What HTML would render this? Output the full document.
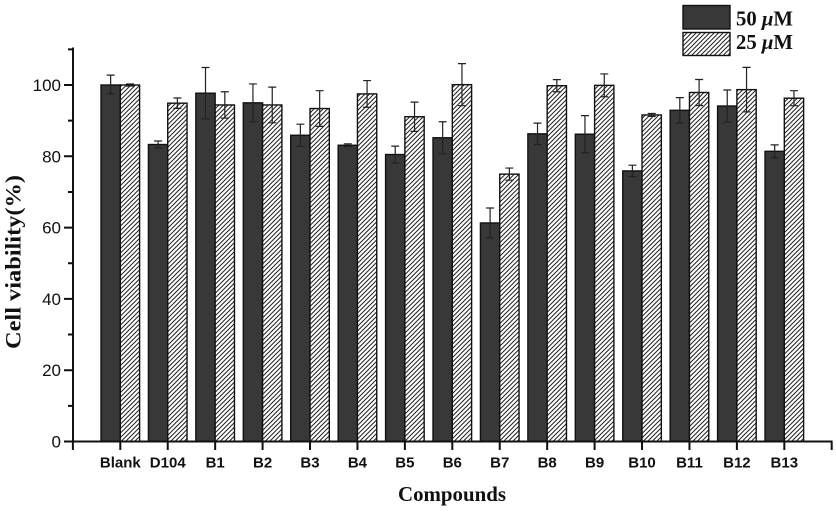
<!DOCTYPE html>
<html>
<head>
<meta charset="utf-8">
<style>
  html,body{margin:0;padding:0;background:#fff;}
  svg{display:block;}
  .tk{font-family:"Liberation Sans",Arial,sans-serif;font-size:17px;fill:#111;}
  .xl{font-family:"Liberation Sans",Arial,sans-serif;font-size:15px;font-weight:bold;fill:#111;}
  .ttl{font-family:"Liberation Serif","Times New Roman",serif;font-weight:bold;fill:#111;}
  .d{fill:#383838;stroke:#111;stroke-width:1.4;}
  .h{fill:url(#hatch);stroke:#111;stroke-width:1.4;}
  .e{stroke:#222;stroke-width:1.2;fill:none;}
</style>
</head>
<body>
<svg width="836" height="512" viewBox="0 0 836 512" xmlns="http://www.w3.org/2000/svg">
  <defs>
    <pattern id="hatch" patternUnits="userSpaceOnUse" width="4.5" height="4.5">
      <rect width="4.5" height="4.5" fill="#fff"/>
      <path d="M-1,5.5 L5.5,-1 M-1,1 L1,-1 M3.5,5.5 L5.5,3.5" stroke="#222" stroke-width="1"/>
    </pattern>
  </defs>

  <!-- Bars -->
  <g>
    <!-- 0 Blank c=120.3 -->
    <rect class="d" x="101" y="85.0" width="19.3" height="356.5"/>
    <rect class="h" x="120.3" y="85.0" width="19.3" height="356.5"/>
    <!-- 1 D104 c=167.73 -->
    <rect class="d" x="148.43" y="144.53" width="19.3" height="296.97"/>
    <rect class="h" x="167.73" y="103.17" width="19.3" height="338.33"/>
    <!-- 2 B1 c=215.16 -->
    <rect class="d" x="195.86" y="93.20" width="19.3" height="348.3"/>
    <rect class="h" x="215.16" y="104.96" width="19.3" height="336.54"/>
    <!-- 3 B2 c=262.59 -->
    <rect class="d" x="243.29" y="102.83" width="19.3" height="338.67"/>
    <rect class="h" x="262.59" y="104.96" width="19.3" height="336.54"/>
    <!-- 4 B3 c=310.02 -->
    <rect class="d" x="290.72" y="135.26" width="19.3" height="306.24"/>
    <rect class="h" x="310.02" y="108.53" width="19.3" height="332.97"/>
    <!-- 5 B4 c=357.45 -->
    <rect class="d" x="338.15" y="145.25" width="19.3" height="296.25"/>
    <rect class="h" x="357.45" y="93.91" width="19.3" height="347.59"/>
    <!-- 6 B5 c=404.88 -->
    <rect class="d" x="385.58" y="154.52" width="19.3" height="286.98"/>
    <rect class="h" x="404.88" y="116.73" width="19.3" height="324.77"/>
    <!-- 7 B6 c=452.31 -->
    <rect class="d" x="433.01" y="137.76" width="19.3" height="303.74"/>
    <rect class="h" x="452.31" y="84.64" width="19.3" height="356.86"/>
    <!-- 8 B7 c=499.74 -->
    <rect class="d" x="480.44" y="222.97" width="19.3" height="218.53"/>
    <rect class="h" x="499.74" y="174.13" width="19.3" height="267.37"/>
    <!-- 9 B8 c=547.17 -->
    <rect class="d" x="527.87" y="133.84" width="19.3" height="307.66"/>
    <rect class="h" x="547.17" y="85.71" width="19.3" height="355.79"/>
    <!-- 10 B9 c=594.6 -->
    <rect class="d" x="575.3" y="134.20" width="19.3" height="307.3"/>
    <rect class="h" x="594.6" y="85.36" width="19.3" height="356.14"/>
    <!-- 11 B10 c=642.03 -->
    <rect class="d" x="622.73" y="170.92" width="19.3" height="270.58"/>
    <rect class="h" x="642.03" y="114.95" width="19.3" height="326.55"/>
    <!-- 12 B11 c=689.46 -->
    <rect class="d" x="670.16" y="110.31" width="19.3" height="331.19"/>
    <rect class="h" x="689.46" y="92.49" width="19.3" height="349.01"/>
    <!-- 13 B12 c=736.89 -->
    <rect class="d" x="717.59" y="106.03" width="19.3" height="335.47"/>
    <rect class="h" x="736.89" y="89.63" width="19.3" height="351.87"/>
    <!-- 14 B13 c=784.32 -->
    <rect class="d" x="765.02" y="151.31" width="19.3" height="290.19"/>
    <rect class="h" x="784.32" y="98.19" width="19.3" height="343.31"/>
  </g>

  <!-- Error bars -->
  <g class="e">
    <path d="M110.65,75.09V93.91M106.65,75.09H114.65M106.65,93.91H114.65"/>
    <path d="M129.95,83.93V86.07M125.95,83.93H133.95M125.95,86.07H133.95"/>

    <path d="M158.08,140.97V148.10M154.08,140.97H162.08M154.08,148.10H162.08"/>
    <path d="M177.38,98.01V108.35M173.38,98.01H181.38M173.38,108.35H181.38"/>

    <path d="M205.51,67.53V118.87M201.51,67.53H209.51M201.51,118.87H209.51"/>
    <path d="M224.81,91.77V118.15M220.81,91.77H228.81M220.81,118.15H228.81"/>

    <path d="M252.94,83.93V121.72M248.94,83.93H256.94M248.94,121.72H256.94"/>
    <path d="M272.24,87.14V122.79M268.24,87.14H276.24M268.24,122.79H276.24"/>

    <path d="M300.37,124.21V146.32M296.37,124.21H304.37M296.37,146.32H304.37"/>
    <path d="M319.67,90.70V126.35M315.67,90.70H323.67M315.67,126.35H323.67"/>

    <path d="M347.80,143.82V146.68M343.80,143.82H351.80M343.80,146.68H351.80"/>
    <path d="M367.10,80.54V107.28M363.10,80.54H371.10M363.10,107.28H371.10"/>

    <path d="M395.23,146.14V162.89M391.23,146.14H399.23M391.23,162.89H399.23"/>
    <path d="M414.53,102.11V131.35M410.53,102.11H418.53M410.53,131.35H418.53"/>

    <path d="M442.66,121.72V153.80M438.66,121.72H446.66M438.66,153.80H446.66"/>
    <path d="M461.96,63.61V105.67M457.96,63.61H465.96M457.96,105.67H465.96"/>

    <path d="M490.09,207.99V237.94M486.09,207.99H494.09M486.09,237.94H494.09"/>
    <path d="M509.39,168.07V180.19M505.39,168.07H513.39M505.39,180.19H513.39"/>

    <path d="M537.52,123.15V144.53M533.52,123.15H541.52M533.52,144.53H541.52"/>
    <path d="M556.82,79.65V91.77M552.82,79.65H560.82M552.82,91.77H560.82"/>

    <path d="M584.95,115.66V152.74M580.95,115.66H588.95M580.95,152.74H588.95"/>
    <path d="M604.25,73.95V96.76M600.25,73.95H608.25M600.25,96.76H608.25"/>

    <path d="M632.38,165.21V176.62M628.38,165.21H636.38M628.38,176.62H636.38"/>
    <path d="M651.68,113.52V116.37M647.68,113.52H655.68M647.68,116.37H655.68"/>

    <path d="M679.81,97.66V122.97M675.81,97.66H683.81M675.81,122.97H683.81"/>
    <path d="M699.11,79.48V105.49M695.11,79.48H703.11M695.11,105.49H703.11"/>

    <path d="M727.24,89.99V122.08M723.24,89.99H731.24M723.24,122.08H731.24"/>
    <path d="M746.54,67.35V111.90M742.54,67.35H750.54M742.54,111.90H750.54"/>

    <path d="M774.67,144.89V157.73M770.67,144.89H778.67M770.67,157.73H778.67"/>
    <path d="M793.97,90.70V105.67M789.97,90.70H797.97M789.97,105.67H797.97"/>
  </g>

  <!-- Axes -->
  <g stroke="#111" stroke-width="2" fill="none">
    <path d="M73,47.5V442.5"/>
    <path d="M72,441.5H832.5"/>
    <!-- y major ticks -->
    <path d="M64,441.5H73M64,370.2H73M64,298.9H73M64,227.6H73M64,156.3H73M64,85H73"/>
    <!-- y minor ticks -->
    <path d="M68,405.85H73M68,334.55H73M68,263.25H73M68,191.95H73M68,120.65H73M68,49.35H73"/>
    <!-- x ticks -->
    <path d="M72.9,441.5V450M120.3,441.5V450M167.73,441.5V450M215.16,441.5V450M262.59,441.5V450M310.02,441.5V450M357.45,441.5V450M404.88,441.5V450M452.31,441.5V450M499.74,441.5V450M547.17,441.5V450M594.6,441.5V450M642.03,441.5V450M689.46,441.5V450M736.89,441.5V450M784.32,441.5V450M831.7,441.5V450"/>
  </g>

  <!-- Y tick labels -->
  <g class="tk" text-anchor="end">
    <text x="61" y="447.5">0</text>
    <text x="61" y="376.2">20</text>
    <text x="61" y="304.9">40</text>
    <text x="61" y="233.6">60</text>
    <text x="61" y="162.3">80</text>
    <text x="61" y="91">100</text>
  </g>

  <!-- X tick labels -->
  <g class="xl" text-anchor="middle">
    <text x="120.3" y="467.3">Blank</text>
    <text x="167.73" y="467.3">D104</text>
    <text x="215.16" y="467.3">B1</text>
    <text x="262.59" y="467.3">B2</text>
    <text x="310.02" y="467.3">B3</text>
    <text x="357.45" y="467.3">B4</text>
    <text x="404.88" y="467.3">B5</text>
    <text x="452.31" y="467.3">B6</text>
    <text x="499.74" y="467.3">B7</text>
    <text x="547.17" y="467.3">B8</text>
    <text x="594.6" y="467.3">B9</text>
    <text x="642.03" y="467.3">B10</text>
    <text x="689.46" y="467.3">B11</text>
    <text x="736.89" y="467.3">B12</text>
    <text x="784.32" y="467.3">B13</text>
  </g>

  <!-- Axis titles -->
  <text class="ttl" x="452" y="501" font-size="21" text-anchor="middle" textLength="108" lengthAdjust="spacingAndGlyphs">Compounds</text>
  <text class="ttl" font-size="22" text-anchor="middle" transform="translate(20.5,262) rotate(-90)" textLength="174" lengthAdjust="spacingAndGlyphs">Cell viability(%)</text>

  <!-- Legend -->
  <rect x="683" y="5.5" width="47" height="23.5" fill="#383838" stroke="#111" stroke-width="1.4"/>
  <rect x="683" y="32.5" width="47" height="23" fill="url(#hatch)" stroke="#111" stroke-width="1.4"/>
  <text class="ttl" x="736" y="25.7" font-size="21" textLength="57" lengthAdjust="spacingAndGlyphs">50 <tspan font-style="italic">μ</tspan>M</text>
  <text class="ttl" x="736" y="49" font-size="21" textLength="57" lengthAdjust="spacingAndGlyphs">25 <tspan font-style="italic">μ</tspan>M</text>
</svg>
</body>
</html>
